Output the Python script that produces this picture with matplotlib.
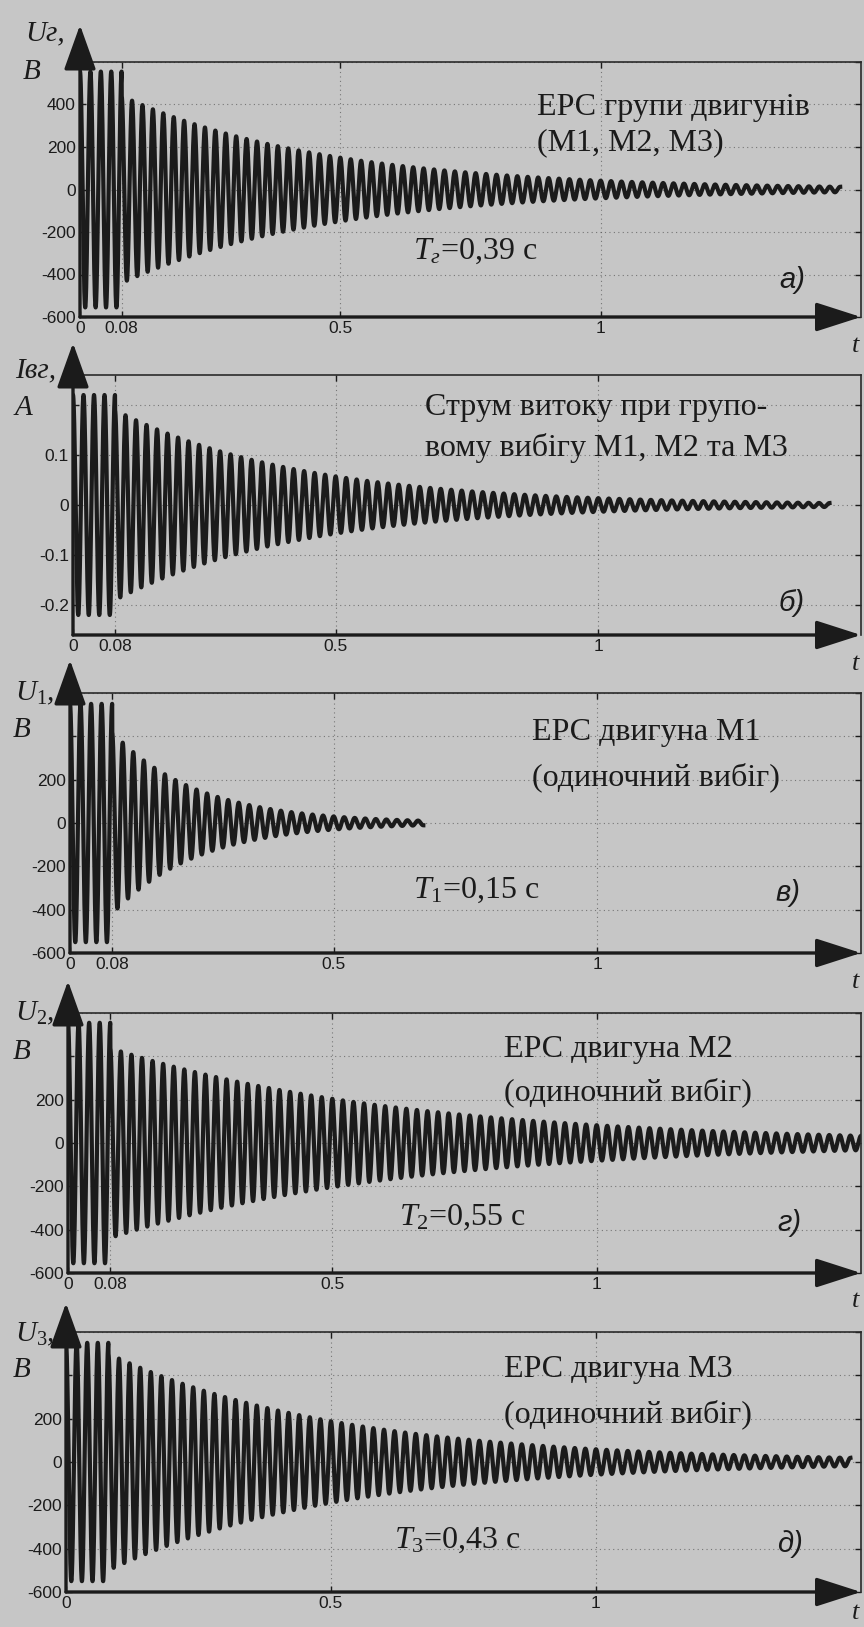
import numpy as np
import matplotlib.pyplot as plt

plt.rcParams['mathtext.fontset'] = 'custom'
plt.rcParams['mathtext.rm'] = 'Liberation Serif'
plt.rcParams['mathtext.it'] = 'Liberation Serif:italic'

# ---- значення ----
freq_hz = 50                                   # частота коливань ЕРС
t_switch = [0.08, 0.08, 0.08, 0.08, 0.08]      # момент відключення, с
t_end = [1.46, 1.44, 0.67, 1.50, 1.48]         # кінець запису, с
amp_before = [555, 0.22, 550, 555, 550]        # амплітуда до відключення
amp_after = [440, 0.19, 420, 438, 500]         # амплітуда одразу після
decay_T = [0.39, 0.35, 0.16, 0.55, 0.43]       # стала часу згасання, с
y_max = [600, 0.26, 600, 600, 600]

y_ticks = [[-600, -400, -200, 0, 200, 400, 600],
           [-0.2, -0.1, 0, 0.1, 0.2],
           [-600, -400, -200, 0, 200, 400, 600],
           [-600, -400, -200, 0, 200, 400, 600],
           [-600, -400, -200, 0, 200, 400, 600]]
y_ticklabels = [["-600", "-400", "-200", "0", "200", "400", ""],
                ["-0.2", "-0.1", "0", "0.1", ""],
                ["-600", "-400", "-200", "0", "200", "", ""],
                ["-600", "-400", "-200", "0", "200", "", ""],
                ["-600", "-400", "-200", "0", "200", "", ""]]
x_ticks = [[0, 0.08, 0.5, 1]] * 4 + [[0, 0.5, 1]]
x_ticklabels = [["0", "0.08", "0.5", "1"]] * 4 + [["0", "0.5", "1"]]

y_names = ["Uг,", "Iвг,", "$U_1$,", "$U_2$,", "$U_3$,"]
y_units = ["B", "A", "B", "B", "B"]
captions = [["ЕРС групи двигунів", "(М1, М2, М3)"],
            ["Струм витоку при групо-", "вому вибігу М1, М2 та М3"],
            ["ЕРС двигуна М1", "(одиночний вибіг)"],
            ["ЕРС двигуна М2", "(одиночний вибіг)"],
            ["ЕРС двигуна М3", "(одиночний вибіг)"]]
t_notes = ["$T_г$=0,39 с", "", "$T_1$=0,15 с", "$T_2$=0,55 с", "$T_3$=0,43 с"]
panel_marks = ["а)", "б)", "в)", "г)", "д)"]

# ---- розміщення (пікселі рисунка, відлік зверху) ----
W, H = 864, 1627
ax_left = [80, 73, 70, 68, 66]
ax_right = 861
ax_top = [62, 375, 693, 1013, 1332]
ax_bottom = [317, 635, 953, 1273, 1592]
name_pos = [(25, 33), (15, 370), (15, 693), (15, 1013), (15, 1334)]
unit_pos = [(23, 72), (15, 408), (13, 730), (13, 1052), (13, 1370)]
cap_pos = [(537, 107, 143), (425, 407, 448), (532, 733, 777),
           (504, 1050, 1092), (504, 1370, 1414)]
note_pos = [(413, 251), None, (413, 890), (399, 1217), (394, 1540)]
mark_pos = [(779, 280), (779, 603), (775, 893), (777, 1223), (777, 1544)]
t_pos_y = [346, 664, 982, 1301, 1613]
arrow_over = [37, 32, 33, 32, 29]

bg = '#c6c6c6'
ink = '#1b1b1b'
serif = 'Liberation Serif'
sans = 'Liberation Sans'

fig = plt.figure(figsize=(W / 100, H / 100), dpi=100)
fig.patch.set_facecolor(bg)


def fx(x):
    return x / W


def fy(y):
    return 1 - y / H


for i in range(5):
    ax = fig.add_axes([fx(ax_left[i]), fy(ax_bottom[i]),
                       (ax_right - ax_left[i]) / W, (ax_bottom[i] - ax_top[i]) / H])
    ax.set_facecolor(bg)

    t = np.linspace(0, t_end[i], 30000)
    amp = np.where(t < t_switch[i], amp_before[i],
                   amp_after[i] * np.exp(-(t - t_switch[i]) / decay_T[i]))
    ax.plot(t, amp * np.cos(2 * np.pi * freq_hz * t), color=ink, lw=3.0)

    ax.set_xlim(0, 1.5)
    ax.set_ylim(-y_max[i], y_max[i])
    ax.set_xticks(x_ticks[i])
    ax.set_xticklabels(x_ticklabels[i])
    ax.set_yticks(y_ticks[i])
    ax.set_yticklabels(y_ticklabels[i])
    ax.tick_params(direction='in', length=4, width=1, top=True, right=True,
                   labelsize=12.5, pad=3, colors=ink)
    for lab in ax.get_xticklabels() + ax.get_yticklabels():
        lab.set_family(sans)
    ax.grid(True, linestyle=(0, (1, 3)), color='#555555', lw=0.8, alpha=0.7)

    for s in ['left', 'bottom']:
        ax.spines[s].set_visible(False)
    for s in ['top', 'right']:
        ax.spines[s].set_linewidth(1.2)
        ax.spines[s].set_color('#2a2a2a')

    h_px = ax_bottom[i] - ax_top[i]
    ax.annotate('', xy=(1.0, 0), xytext=(0, 0), xycoords='axes fraction',
                arrowprops=dict(arrowstyle='-|>,head_length=1.4,head_width=0.45',
                                lw=2.4, color=ink, mutation_scale=20,
                                shrinkA=0, shrinkB=0), annotation_clip=False)
    ax.annotate('', xy=(0, 1 + arrow_over[i] / h_px), xytext=(0, 0),
                xycoords='axes fraction',
                arrowprops=dict(arrowstyle='-|>,head_length=1.4,head_width=0.5',
                                lw=2.4, color=ink, mutation_scale=20,
                                shrinkA=0, shrinkB=0), annotation_clip=False)

    fig.text(fx(name_pos[i][0]), fy(name_pos[i][1]), y_names[i], family=serif,
             style='italic', fontsize=21, color=ink, va='center', ha='left')
    fig.text(fx(unit_pos[i][0]), fy(unit_pos[i][1]), y_units[i], family=serif,
             style='italic', fontsize=21, color=ink, va='center', ha='left')
    fig.text(fx(852), fy(t_pos_y[i]), 't', family=serif, style='italic',
             fontsize=19, color=ink, va='center', ha='left')

    cx, cy1, cy2 = cap_pos[i]
    fig.text(fx(cx), fy(cy1), captions[i][0], family=serif, fontsize=23,
             color=ink, va='center', ha='left')
    fig.text(fx(cx), fy(cy2), captions[i][1], family=serif, fontsize=23,
             color=ink, va='center', ha='left')
    if note_pos[i] is not None:
        fig.text(fx(note_pos[i][0]), fy(note_pos[i][1]), t_notes[i], family=serif,
                 fontsize=23, color=ink, va='center', ha='left')
    fig.text(fx(mark_pos[i][0]), fy(mark_pos[i][1]), panel_marks[i], family=sans,
             style='italic', fontsize=21, color=ink, va='center', ha='left')

fig.savefig('out.png', dpi=100, facecolor=bg)
